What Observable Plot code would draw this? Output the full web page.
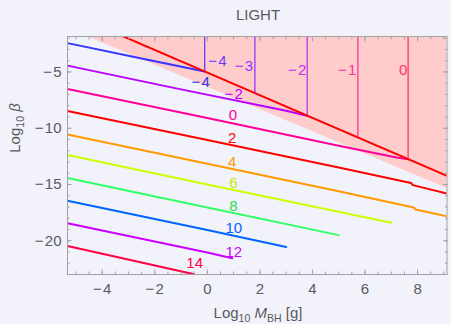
<!DOCTYPE html>
<html><head><meta charset="utf-8">
<script src="https://cdn.jsdelivr.net/npm/d3@7"></script>
<script src="https://cdn.jsdelivr.net/npm/@observablehq/plot@0.6"></script>
<style>
html,body{margin:0;padding:0;background:#f2f2fb;}
</style></head><body><div id="chart"></div>
<script>
// ---- axes ----
const xDomain = [-5.32, 9.12];
const yDomain = [-23, -1.85];
const xMajor = [-4, -2, 0, 2, 4, 6, 8];
const yMajor = [-20, -15, -10, -5];
const xMinor = d3.range(-5, 9.01, 0.5);
const yMinor = d3.range(-23, -1.9, 1);

// ---- diagonal curves (label, colour, x values, y values) ----
const curveLabels = ["−4", "−2", "0", "2", "4", "6", "8", "10", "12", "14"];
const curveColors = ["#3535ff", "#bb00ff", "#ff0099", "#ff0000", "#ff9900", "#ccff00", "#33ff66", "#0066ff", "#cc00ff", "#ff0044"];
const labelColors = ["#3535ee", "#bb00ff", "#ff0099", "#ff0000", "#ff9900", "#c8e800", "#22e055", "#0066ff", "#cc00ff", "#ff0044"];
const curveX = [
  [-5.32, -2.5, -0.1],
  [-5.32, -1, 3, 3.83],
  [-5.32, 0, 5, 7.2, 7.64],
  [-5.32, 0, 5, 7.75, 7.82, 9.12],
  [-5.32, 0, 5, 7.85, 7.92, 9.12],
  [-5.32, 0, 7],
  [-5.32, 0, 5],
  [-5.32, 0, 3],
  [-5.32, 0, 0.95],
  [-5.32, -0.5]
];
const curveY = [
  [-2.44, -3.8, -4.96],
  [-4.44, -6.55, -8.45, -8.91],
  [-6.51, -9.1, -11.55, -12.6, -12.77],
  [-8.47, -11.05, -13.5, -14.86, -15.06, -15.8],
  [-10.55, -13.15, -15.6, -17.05, -17.22, -17.82],
  [-12.38, -15.0, -18.4],
  [-14.43, -17.05, -19.5],
  [-16.45, -19.05, -20.55],
  [-18.44, -21.05, -21.55],
  [-20.46, -22.98]
];
const curveLabelX = [-0.25, 1.0, 0.97, 0.95, 0.95, 0.99, 0.99, 1.01, 1.01, -0.48];
const curveLabelY = [-5.95, -6.95, -8.83, -10.88, -12.99, -14.91, -16.93, -18.92, -21.0, -22.03];

// ---- excluded region and its boundary ----
const shadeX = [-4.56, 9.12];
const shadeLow = [-1.86, -15.35];
const shadeTop = [-1.85, -1.85];
const boundX = [-3.18, 9.12];
const boundY = [-1.86, -14.23];

// ---- vertical lines ----
const vLabels = ["−4", "−3", "−2", "−1", "0"];
const vColors = ["#6a3cff", "#9933ff", "#c030f0", "#ff3399", "#ff3366"];
const vX = [-0.1, 1.81, 3.80, 5.73, 7.64];
const vTop = [-1.85, -1.85, -1.85, -1.85, -1.85];
const vBottom = [-4.96, -6.88, -8.87, -10.80, -12.76];
const vLabelX = [0.38, 1.39, 3.42, 5.32, 7.45];
const vLabelY = [-4.02, -4.47, -4.82, -4.82, -4.82];

// ---- build tables ----
const SP = "\u200A";
const curveRows = [];
curveX.forEach((xs, i) => xs.forEach((x, j) => curveRows.push({s: i, x, y: curveY[i][j], c: curveColors[i]})));
const curveLabelRows = curveLabels.map((t, i) => ({t: t.replace("−", "−" + SP), x: curveLabelX[i], y: curveLabelY[i], c: labelColors[i]}));
const shadeRows = shadeX.map((x, i) => ({x, y1: shadeLow[i], y2: shadeTop[i]}));
const boundRows = boundX.map((x, i) => ({x, y: boundY[i]}));
const vRows = vX.map((x, i) => ({x, y1: vTop[i], y2: vBottom[i], c: vColors[i]}));
const vLabelRows = vLabels.map((t, i) => ({t: t.replace("−", "−" + SP), x: vLabelX[i], y: vLabelY[i], c: vColors[i]}));

const fmt = d => d < 0 ? "−" + SP + Math.abs(d) : String(d);
const frameGray = "#a3a3a3";
const textGray = "#5a5a5a";

const svg = Plot.plot({
  width: 451, height: 324,
  marginLeft: 67, marginRight: 4.5, marginTop: 36, marginBottom: 50,
  style: {background: "#f2f2fb", fontFamily: "'Liberation Sans', Arial, sans-serif", fontSize: "14px"},
  x: {domain: xDomain, label: null},
  y: {domain: yDomain, label: null},
  color: {type: "identity"},
  marks: [
    Plot.areaY(shadeRows, {x: "x", y1: "y1", y2: "y2", fill: "#ffcccc", clip: true}),
    Plot.line(curveRows, {x: "x", y: "y", z: "s", stroke: "c", strokeWidth: 2, clip: true}),
    Plot.ruleX(vRows, {x: "x", y1: "y1", y2: "y2", stroke: "c", strokeWidth: 1.3}),
    Plot.line(boundRows, {x: "x", y: "y", stroke: "#ff0000", strokeWidth: 2, clip: true}),
    Plot.text(curveLabelRows, {x: "x", y: "y", text: "t", fill: "c", fontSize: 15}),
    Plot.text(vLabelRows, {x: "x", y: "y", text: "t", fill: "c", fontSize: 15}),
    Plot.frame({stroke: frameGray}),
    // inward ticks on all four sides
    Plot.axisX({anchor: "bottom", ticks: xMinor, tickSize: -2.5, tickFormat: () => "", stroke: frameGray}),
    Plot.axisX({anchor: "bottom", ticks: xMajor, tickSize: -4.5, tickFormat: () => "", stroke: frameGray}),
    Plot.axisX({anchor: "top", ticks: xMinor, tickSize: -2.5, tickFormat: () => "", stroke: frameGray}),
    Plot.axisX({anchor: "top", ticks: xMajor, tickSize: -4.5, tickFormat: () => "", stroke: frameGray}),
    Plot.axisY({anchor: "left", ticks: yMinor, tickSize: -2.5, tickFormat: () => "", stroke: frameGray}),
    Plot.axisY({anchor: "left", ticks: yMajor, tickSize: -4.5, tickFormat: () => "", stroke: frameGray}),
    Plot.axisY({anchor: "right", ticks: yMinor, tickSize: -2.5, tickFormat: () => "", stroke: frameGray}),
    Plot.axisY({anchor: "right", ticks: yMajor, tickSize: -4.5, tickFormat: () => "", stroke: frameGray}),
    Plot.axisX({anchor: "bottom", ticks: xMajor, tickSize: 0, tickPadding: 9, tickFormat: fmt, fill: textGray, fontSize: 15}),
    Plot.axisY({anchor: "left", ticks: yMajor, tickSize: 0, tickPadding: 6, tickFormat: fmt, fill: textGray, fontSize: 15})
  ]
});

const s = d3.select(svg);
// title
s.append("text").attr("x", 258).attr("y", 20).attr("text-anchor", "middle")
  .attr("fill", textGray).attr("font-size", 15).text("LIGHT");
// x axis title
const xt = s.append("text").attr("x", 258).attr("y", 318).attr("text-anchor", "middle")
  .attr("fill", textGray).attr("font-size", 15);
xt.append("tspan").text("Log");
xt.append("tspan").attr("font-size", 10.5).attr("dy", 4).text("10");
xt.append("tspan").attr("dy", -4).text(" ");
xt.append("tspan").attr("font-style", "italic").text("M");
xt.append("tspan").attr("font-size", 10.5).attr("dy", 4).text("BH");
xt.append("tspan").attr("dy", -4).text(" [g]");
// y axis title
const yt = s.append("text").attr("transform", "translate(20,128) rotate(-90)").attr("text-anchor", "middle")
  .attr("fill", textGray).attr("font-size", 15);
yt.append("tspan").text("Log");
yt.append("tspan").attr("font-size", 10.5).attr("dy", 4).text("10");
yt.append("tspan").attr("dy", -4).text(" ");
yt.append("tspan").attr("font-style", "italic").text("β");

document.getElementById("chart").appendChild(svg);
</script>
</body></html>
